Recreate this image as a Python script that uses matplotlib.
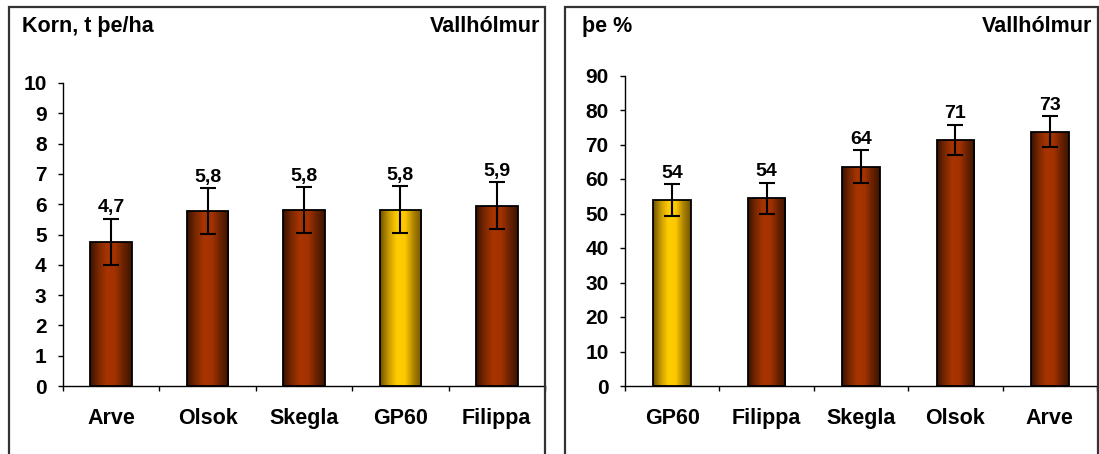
import matplotlib as mpl
mpl.use('Agg')
import matplotlib.pyplot as plt
import matplotlib.patches as patches
from matplotlib.colors import LinearSegmentedColormap
import numpy as np

plt.rcParams['font.family'] = ['Liberation Sans', 'DejaVu Sans']
plt.rcParams['font.weight'] = 'bold'

# left panel: grain yield
korn_names = ['Arve', 'Olsok', 'Skegla', 'GP60', 'Filippa']
korn_vals = [4.75, 5.77, 5.80, 5.82, 5.95]
korn_err = [0.77, 0.75, 0.76, 0.78, 0.77]
korn_labels = ['4,7', '5,8', '5,8', '5,8', '5,9']

# right panel: dry matter %
the_names = ['GP60', 'Filippa', 'Skegla', 'Olsok', 'Arve']
the_vals = [53.9, 54.4, 63.5, 71.3, 73.7]
the_err = [4.6, 4.5, 4.8, 4.4, 4.5]
the_labels = ['54', '54', '64', '71', '73']

highlight = 'GP60'

brown = LinearSegmentedColormap.from_list(
    'brown', ['#3a1200', '#7a2800', '#a83400', '#a33200', '#6a2200', '#3f1500'])
gold = LinearSegmentedColormap.from_list(
    'gold', ['#6e5200', '#c89a00', '#ffcc00', '#ffc800', '#b08600', '#725400'])

W, H = 1099, 454
fig = plt.figure(figsize=(W / 100, H / 100), dpi=100)


def px(x0, y0, x1, y1):
    # pixel box -> figure fraction [left, bottom, width, height]
    return [x0 / W, 1 - y1 / H, (x1 - x0) / W, (y1 - y0) / H]


def draw_panel(rect, names, vals, err, labels, ymax, step, width, label_pad):
    ax = fig.add_axes(rect)
    xs = np.arange(len(names))
    bars = ax.bar(xs, vals, width=width, color='none', edgecolor='black',
                  linewidth=1.3, zorder=3)
    grad = np.linspace(0, 1, 64).reshape(1, -1)
    for b, name in zip(bars, names):
        cmap = gold if name == highlight else brown
        im = ax.imshow(grad, cmap=cmap, aspect='auto', zorder=2,
                       extent=[b.get_x(), b.get_x() + b.get_width(), 0, b.get_height()])
        im.set_clip_path(b)
    ax.errorbar(xs, vals, yerr=err, fmt='none', ecolor='black', elinewidth=1.5,
                capsize=5.8, capthick=1.5, zorder=4)
    for x, v, e, t in zip(xs, vals, err, labels):
        ax.text(x, v + e + label_pad, t, ha='center', va='bottom',
                fontsize=14, fontweight='bold')
    ax.set_xlim(-0.5, len(names) - 0.5)
    ax.set_ylim(0, ymax)
    ax.set_yticks(np.arange(0, ymax + step / 2, step))
    ax.set_xticks(np.arange(-0.5, len(names), 1.0))
    ax.set_xticklabels([])
    ax.set_xticks(xs, minor=True)
    ax.set_xticklabels(names, minor=True)
    ax.tick_params(axis='x', which='minor', length=0, pad=16, labelsize=15.5)
    ax.tick_params(axis='x', which='major', direction='out', length=3.8, width=1)
    ax.tick_params(axis='y', direction='out', length=3.8, width=1, labelsize=15, pad=8)
    for lab in ax.get_xticklabels(minor=True) + ax.get_yticklabels():
        lab.set_fontweight('bold')
    for s in ['top', 'right']:
        ax.spines[s].set_visible(False)
    for s in ['left', 'bottom']:
        ax.spines[s].set_linewidth(1)
    ax.set_facecolor('none')
    return ax


draw_panel(px(63, 83, 545, 386), korn_names, korn_vals, korn_err, korn_labels,
           10, 1, 0.43, 0.08)
draw_panel(px(625, 75.5, 1097, 386), the_names, the_vals, the_err, the_labels,
           90, 10, 0.40, 0.7)

# panel frames
for x0, x1 in [(9, 545), (565, 1098)]:
    fig.patches.append(patches.Rectangle(
        (x0 / W, -0.05), (x1 - x0) / W, 1.05 - 7 / H, transform=fig.transFigure,
        fill=False, edgecolor='#333333', linewidth=1.6, zorder=0))

fig.text(22 / W, 1 - 32 / H, 'Korn, t þe/ha', fontsize=15.5, fontweight='bold')
fig.text(540 / W, 1 - 32 / H, 'Vallhólmur', fontsize=15.5, fontweight='bold', ha='right')
fig.text(582 / W, 1 - 32 / H, 'þe %', fontsize=15.5, fontweight='bold')
fig.text(1092 / W, 1 - 32 / H, 'Vallhólmur', fontsize=15.5, fontweight='bold', ha='right')

fig.savefig('out.png', dpi=100)
